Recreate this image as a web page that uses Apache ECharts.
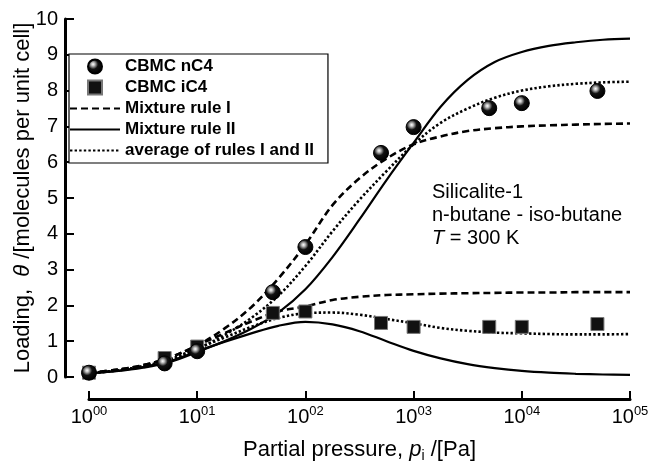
<!DOCTYPE html>
<html>
<head>
<meta charset="utf-8">
<script src="https://cdn.jsdelivr.net/npm/echarts@6/dist/echarts.min.js"></script>
<style>
html,body{margin:0;padding:0;background:#fff;}
#chart{width:650px;height:463px;}
</style>
</head>
<body>
<div id="chart"></div>
<script>
// Partial pressure grid (Pa) for model curves (quarter decades)
const curveP = [1, 1.78, 3.16, 5.62, 10, 17.8, 31.6, 56.2, 100, 178, 316, 562, 1000, 1778, 3162, 5623, 10000, 17783, 31623, 56234, 100000];

// n-butane (nC4) model curves
const nC4RuleI   = [0.12, 0.2, 0.33, 0.55, 0.88, 1.35, 1.95, 2.75, 3.7, 4.8, 5.55, 6.1, 6.5, 6.72, 6.87, 6.95, 7.0, 7.03, 7.05, 7.07, 7.08];
const nC4RuleII  = [0.1, 0.16, 0.26, 0.42, 0.7, 1.0, 1.35, 1.8, 2.45, 3.35, 4.4, 5.5, 6.54, 7.55, 8.3, 8.8, 9.08, 9.25, 9.35, 9.42, 9.45];
const nC4Average = [0.11, 0.18, 0.3, 0.48, 0.78, 1.17, 1.65, 2.27, 3.1, 4.07, 4.95, 5.75, 6.5, 7.1, 7.5, 7.8, 8.0, 8.12, 8.19, 8.23, 8.25];

// iso-butane (iC4) model curves
const iC4RuleI   = [0.12, 0.2, 0.33, 0.55, 0.88, 1.22, 1.55, 1.83, 1.97, 2.15, 2.24, 2.29, 2.31, 2.33, 2.34, 2.35, 2.36, 2.36, 2.37, 2.37, 2.37];
const iC4RuleII  = [0.1, 0.17, 0.28, 0.45, 0.72, 0.98, 1.22, 1.43, 1.54, 1.47, 1.28, 1.0, 0.73, 0.52, 0.36, 0.25, 0.17, 0.12, 0.09, 0.07, 0.06];
const iC4Average = [0.11, 0.18, 0.3, 0.5, 0.8, 1.1, 1.4, 1.65, 1.78, 1.8, 1.74, 1.62, 1.5, 1.37, 1.29, 1.24, 1.22, 1.2, 1.19, 1.19, 1.2];

// CBMC simulation points
const cbmcP   = [1, 5, 10, 50, 100, 500, 1000, 5000, 10000, 50000];
const cbmcNC4 = [0.12, 0.38, 0.72, 2.37, 3.63, 6.26, 6.98, 7.51, 7.65, 7.99];
const cbmcIC4 = [0.12, 0.53, 0.85, 1.79, 1.83, 1.51, 1.40, 1.40, 1.40, 1.48];

// Axis tick labels
const xTickSup = ['00', '01', '02', '03', '04', '05'];
const yTicks = [0, 1, 2, 3, 4, 5, 6, 7, 8, 9, 10];

const legendNames = ['CBMC nC4', 'CBMC iC4', 'Mixture rule I', 'Mixture rule II', 'average of rules I and II'];

function pairs(xs, ys) { return xs.map((x, i) => [x, ys[i]]); }

const FONT = '"Liberation Sans", Arial, Helvetica, sans-serif';
const dashed = { color: '#000', width: 2.6, type: [7, 4] };
const solid  = { color: '#000', width: 2.2, type: 'solid' };
const dotted = { color: '#000', width: 2.6, type: [2.4, 2.2] };

function lineSeries(name, data, style) {
  return {
    type: 'line', name: name, data: data, symbol: 'none', showSymbol: false,
    smooth: 0.35, lineStyle: style, itemStyle: { color: '#000' }, z: 2,
    emphasis: { disabled: true }, silent: true
  };
}

const sphere = {
  type: 'radial', x: 0.38, y: 0.36, r: 0.62,
  colorStops: [
    { offset: 0, color: '#ffffff' },
    { offset: 0.18, color: '#bbbbbb' },
    { offset: 0.5, color: '#111111' },
    { offset: 1, color: '#000000' }
  ]
};

const hiddenSymbol = { opacity: 0, color: 'rgba(0,0,0,0)', borderWidth: 0 };
const legendData = legendNames.map(function (n, i) {
  if (i === 0) return { name: n };
  if (i === 1) return { name: n, icon: 'path://M0,0L10,0L10,10L0,10Z' };
  return { name: n, itemStyle: hiddenSymbol };
});

const chart = echarts.init(document.getElementById('chart'), null, { renderer: 'canvas' });
chart.setOption({
  animation: false,
  backgroundColor: '#fff',
  textStyle: { fontFamily: FONT },
  grid: { left: 89, right: 20, top: 19, bottom: 86, containLabel: false, outerBoundsMode: 'none' },
  legend: {
    data: legendData,
    orient: 'vertical',
    left: 69, top: 54,
    itemWidth: 50, itemHeight: 14, itemGap: 4,
    padding: [4, 14, 4, 0],
    borderColor: '#000', borderWidth: 1.2,
    backgroundColor: '#fff',
    selectedMode: false,
    symbolKeepAspect: true,
    textStyle: { fontFamily: FONT, fontSize: 17, fontWeight: 'bold', color: '#000', lineHeight: 16 }
  },
  xAxis: {
    type: 'log', logBase: 10, min: 1, max: 100000,
    offset: 22,
    axisLine: { show: true, onZero: false, lineStyle: { color: '#000', width: 3 } },
    axisTick: { show: true, inside: true, length: 8, lineStyle: { color: '#000', width: 2 } },
    minorTick: { show: false },
    splitLine: { show: false },
    axisLabel: {
      margin: 6,
      color: '#000',
      formatter: function (v) {
        const e = Math.round(Math.log10(v));
        return '{b|10}{s|' + xTickSup[e] + '}';
      },
      rich: {
        b: { fontSize: 20, fontFamily: FONT, color: '#000', verticalAlign: 'bottom', lineHeight: 22 },
        s: { fontSize: 13, fontFamily: FONT, color: '#000', verticalAlign: 'top', lineHeight: 22 }
      }
    },
    name: 'Partial pressure, {i|p}{sub|i} /[Pa]',
    nameLocation: 'middle', nameGap: 37,
    nameTextStyle: {
      fontSize: 22, color: '#000', fontFamily: FONT,
      rich: {
        i: { fontSize: 22, fontStyle: 'italic', fontFamily: FONT, color: '#000' },
        sub: { fontSize: 14, fontFamily: FONT, color: '#000', verticalAlign: 'bottom', lineHeight: 27 }
      }
    }
  },
  yAxis: {
    type: 'value', min: 0, max: 10, interval: 1,
    offset: 24,
    axisLine: { show: true, onZero: false, lineStyle: { color: '#000', width: 3 } },
    axisTick: { show: true, inside: true, length: 9, lineStyle: { color: '#000', width: 2 } },
    splitLine: { show: false },
    axisLabel: {
      margin: 7, color: '#000', fontSize: 20, fontFamily: FONT,
      formatter: function (v) { return yTicks.indexOf(v) >= 0 ? String(v) : ''; }
    },
    name: 'Loading,  {i|θ} /[molecules per unit cell]',
    nameLocation: 'middle', nameGap: 31, nameRotate: 90,
    nameMoveOverlap: false,
    nameTextStyle: {
      fontSize: 22, color: '#000', fontFamily: FONT,
      rich: { i: { fontSize: 22, fontStyle: 'italic', fontFamily: FONT, color: '#000' } }
    }
  },
  graphic: [{
    type: 'text', left: 432, top: 182, silent: true,
    style: {
      text: '{a|Silicalite-1}\n{a|n-butane - iso-butane}\n{i|T}{a| = 300 K}',
      fill: '#000',
      rich: {
        a: { fontSize: 20, fontFamily: FONT, lineHeight: 23, fill: '#000', color: '#000' },
        i: { fontSize: 20, fontFamily: FONT, fontStyle: 'italic', lineHeight: 23, fill: '#000', color: '#000' }
      }
    }
  }],
  series: [
    lineSeries('Mixture rule I', pairs(curveP, nC4RuleI), dashed),
    lineSeries('Mixture rule I', pairs(curveP, iC4RuleI), dashed),
    lineSeries('Mixture rule II', pairs(curveP, nC4RuleII), solid),
    lineSeries('Mixture rule II', pairs(curveP, iC4RuleII), solid),
    lineSeries('average of rules I and II', pairs(curveP, nC4Average), dotted),
    lineSeries('average of rules I and II', pairs(curveP, iC4Average), dotted),
    {
      type: 'scatter', name: 'CBMC iC4', data: pairs(cbmcP, cbmcIC4),
      symbol: 'rect', symbolSize: 13, z: 4, silent: true,
      itemStyle: { color: '#111', borderColor: '#777', borderWidth: 1, opacity: 1 }
    },
    {
      type: 'scatter', name: 'CBMC nC4', data: pairs(cbmcP, cbmcNC4),
      symbol: 'circle', symbolSize: 15, z: 5, silent: true,
      itemStyle: { color: sphere, borderColor: '#000', borderWidth: 1, opacity: 1 }
    }
  ]
});
</script>
</body>
</html>
